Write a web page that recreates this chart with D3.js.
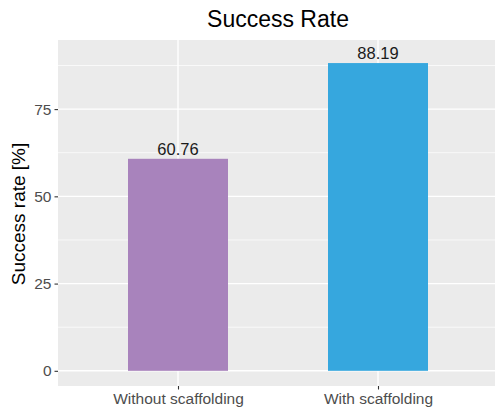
<!DOCTYPE html>
<html>
<head>
<meta charset="utf-8">
<script src="https://cdn.jsdelivr.net/npm/d3@7"></script>
<style>
  html, body { margin: 0; padding: 0; background: #fff; }
  svg { display: block; font-family: "Liberation Sans", Arial, sans-serif; }
</style>
</head>
<body>
<svg id="chart" width="495" height="414"></svg>
<script>
// Success rate per condition
const categories = ["Without scaffolding", "With scaffolding"];
const values = [60.76, 88.19];
const barColors = ["#A883BC", "#36A7DE"];
const yTicks = [0, 25, 50, 75];
const yMinor = [12.5, 37.5, 62.5, 87.5];

const svg = d3.select("#chart");
const panel = { left: 58, top: 40, right: 498, bottom: 386 };

// discrete x positions with ggplot-like 0.6 expansion on each side
const x = d3.scaleLinear().domain([0.4, 2.6]).range([panel.left, panel.right]);
const y = d3.scaleLinear().domain([-4.35, 94.8]).range([panel.bottom, panel.top]);
const barHalf = 0.25;

svg.append("rect")
  .attr("x", panel.left).attr("y", panel.top)
  .attr("width", panel.right - panel.left).attr("height", panel.bottom - panel.top)
  .attr("fill", "#EBEBEB");

const grid = svg.append("g");
grid.selectAll("line.minor").data(yMinor).join("line")
  .attr("x1", panel.left).attr("x2", panel.right)
  .attr("y1", d => y(d)).attr("y2", d => y(d))
  .attr("stroke", "#fff").attr("stroke-width", 0.7);
grid.selectAll("line.major").data(yTicks).join("line")
  .attr("x1", panel.left).attr("x2", panel.right)
  .attr("y1", d => y(d)).attr("y2", d => y(d))
  .attr("stroke", "#fff").attr("stroke-width", 1.4);
grid.selectAll("line.vx").data(categories).join("line")
  .attr("x1", (d, i) => x(i + 1)).attr("x2", (d, i) => x(i + 1))
  .attr("y1", panel.top).attr("y2", panel.bottom)
  .attr("stroke", "#fff").attr("stroke-width", 1.4);

// bars
svg.append("g").selectAll("rect").data(values).join("rect")
  .attr("x", (d, i) => x(i + 1 - barHalf))
  .attr("width", (d, i) => x(i + 1 + barHalf) - x(i + 1 - barHalf))
  .attr("y", d => y(d))
  .attr("height", d => y(0) - y(d))
  .attr("fill", (d, i) => barColors[i]);

// value labels
svg.append("g").selectAll("text").data(values).join("text")
  .attr("x", (d, i) => x(i + 1))
  .attr("y", d => y(d) - 4)
  .attr("text-anchor", "middle")
  .attr("font-size", 16.5)
  .attr("fill", "#1a1a1a")
  .text(d => d.toFixed(2));

// y axis
const yAxis = d3.axisLeft(y).tickValues(yTicks).tickSize(3.5).tickPadding(3);
const gy = svg.append("g").attr("transform", `translate(${panel.left},0)`).call(yAxis);
gy.select(".domain").remove();
gy.selectAll(".tick line").attr("stroke", "#333").attr("stroke-width", 1.1);
gy.selectAll(".tick text").attr("font-size", 15.5).attr("fill", "#4D4D4D")
  .attr("font-family", "Liberation Sans, Arial, sans-serif");

// x axis
const xAxis = d3.axisBottom(x).tickValues([1, 2]).tickFormat(d => categories[d - 1]).tickSize(3.5).tickPadding(3);
const gx = svg.append("g").attr("transform", `translate(0,${panel.bottom})`).call(xAxis);
gx.select(".domain").remove();
gx.selectAll(".tick line").attr("stroke", "#333").attr("stroke-width", 1.1);
gx.selectAll(".tick text").attr("font-size", 15.5).attr("fill", "#4D4D4D")
  .attr("font-family", "Liberation Sans, Arial, sans-serif");

// titles
svg.append("text")
  .attr("x", 278).attr("y", 27)
  .attr("text-anchor", "middle")
  .attr("font-size", 23)
  .attr("fill", "#000")
  .text("Success Rate");

svg.append("text")
  .attr("transform", `translate(25,${(panel.top + panel.bottom) / 2 + 1}) rotate(-90)`)
  .attr("text-anchor", "middle")
  .attr("font-size", 19)
  .attr("fill", "#000")
  .text("Success rate [%]");
</script>
</body>
</html>
